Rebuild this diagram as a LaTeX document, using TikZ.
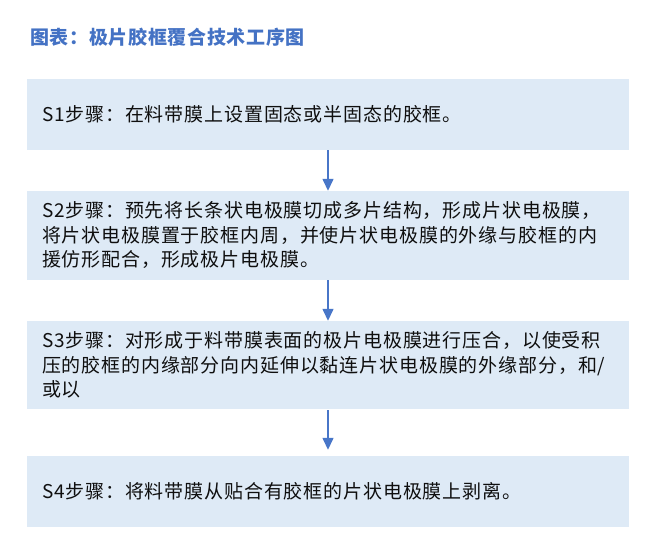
\documentclass[tikz,border=0pt]{standalone}
\usepackage{fontspec}
\usetikzlibrary{arrows.meta}
\newfontfamily\cjk[LetterSpace=4.5]{Noto Sans CJK SC}
\newfontfamily\cjkt[LetterSpace=3.5]{Noto Sans CJK SC}
\definecolor{boxfill}{RGB}{222,234,246}
\definecolor{titleblue}{RGB}{68,114,196}
\definecolor{arrowblue}{RGB}{72,118,200}
\definecolor{txt}{RGB}{15,15,15}
\tikzset{
  stepbox/.style={fill=boxfill, draw=none, minimum width=602pt, inner sep=0pt},
  steptext/.style={anchor=west, align=left, inner sep=0pt, text=txt,
    font=\cjk\fontsize{19pt}{24.5pt}\selectfont},
  flow/.style={draw=arrowblue, line width=1.4pt, -{Triangle[width=11pt,length=12pt]}},
  titletext/.style={anchor=west, inner sep=0pt, text=titleblue,
    font=\cjkt\bfseries\fontsize{19pt}{22pt}\selectfont}
}
\begin{document}
\begin{tikzpicture}[x=1pt,y=-1pt]
\useasboundingbox (0,0) rectangle (645,537);
\node[titletext] (title) at (30,37) {图表：极片胶框覆合技术工序图};
\node[stepbox, minimum height=71pt] (b1) at (328,114.5) {};
\node[stepbox, minimum height=89pt] (b2) at (328,235.5) {};
\node[stepbox, minimum height=88pt] (b3) at (328,365) {};
\node[stepbox, minimum height=71pt] (b4) at (328,491.5) {};
\node[steptext] (t1) at ([xshift=15pt]b1.west) {S1步骤：在料带膜上设置固态或半固态的胶框。};
\node[steptext] (t2) at ([xshift=15pt]b2.west) {S2步骤：预先将长条状电极膜切成多片结构，形成片状电极膜，\\将片状电极膜置于胶框内周，并使片状电极膜的外缘与胶框的内\\援仿形配合，形成极片电极膜。};
\node[steptext] (t3) at ([xshift=15pt]b3.west) {S3步骤：对形成于料带膜表面的极片电极膜进行压合，以使受积\\压的胶框的内缘部分向内延伸以黏连片状电极膜的外缘部分，和/\\或以};
\node[steptext] (t4) at ([xshift=15pt]b4.west) {S4步骤：将料带膜从贴合有胶框的片状电极膜上剥离。};
\draw[flow] (b1.south) -- (b2.north);
\draw[flow] (b2.south) -- (b3.north);
\draw[flow, shorten <=1pt, shorten >=6pt] (b3.south) -- (b4.north);
\end{tikzpicture}
\end{document}
